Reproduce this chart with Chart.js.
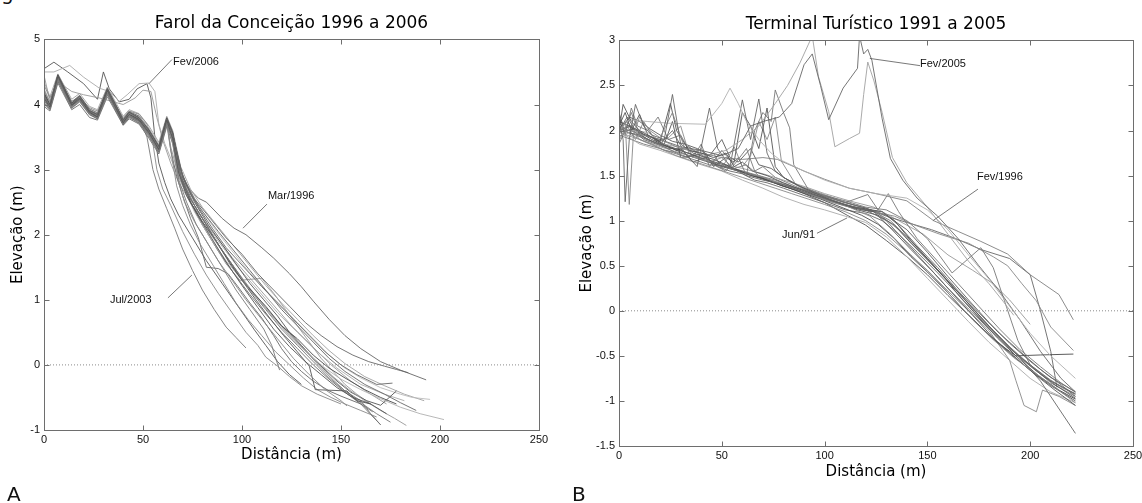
<!DOCTYPE html>
<html>
<head>
<meta charset="utf-8">
<script src="https://cdn.jsdelivr.net/npm/chart.js@4.4.1/dist/chart.umd.min.js"></script>
<style>
body { margin: 0; width: 1142px; height: 503px; position: relative; overflow: hidden; background: #fff; }
canvas { position: absolute; top: 0; }
.tag { position: absolute; font-family: 'DejaVu Sans'; font-size: 20px; line-height: 20px; color: #111; }
</style>
</head>
<body>
<div class="tag" style="left:1px;top:-17px">g</div>
<canvas id="farol" width="560" height="503" style="left:0"></canvas>
<canvas id="terminal" width="572" height="503" style="left:570px"></canvas>
<div class="tag" style="left:7px;top:484px">A</div>
<div class="tag" style="left:572px;top:484px">B</div>
<script>
// ---- Farol da Conceição profiles [distance m, elevation m]
const fc_mar1996 = [[0,4.12],[3,3.98],[7,4.4],[14,3.98],[18,4.08],[23,3.88],[27,3.81],[32,4.18],[40,3.74],[43,3.85],[48,3.76],[53,3.58],[58,3.33],[62,3.73],[65,3.5],[68,3.0],[72,2.75],[78,2.56],[82,2.5],[90,2.25],[96,2.1],[102,2.0],[110,1.8],[116,1.64],[124,1.4],[130,1.2],[136,0.98],[144,0.7],[152,0.45],[160,0.25],[170,0.05],[180,-0.08],[193,-0.23]];
const fc_jul2003 = [[0,4.2],[3,4.0],[7,4.38],[14,4.02],[18,4.12],[23,3.9],[27,3.84],[32,4.22],[40,3.78],[43,3.86],[48,3.8],[52,3.5],[55,3.0],[58,2.7],[62,2.4],[66,2.1],[70,1.78],[75,1.45],[80,1.15],[86,0.85],[92,0.58],[97,0.42],[102,0.26]];
const fc_fev2006 = [[0,4.55],[5,4.65],[12,4.5],[20,4.32],[27,4.08],[30,4.5],[33,4.24],[38,4.04],[43,4.08],[47,4.24],[52,4.32],[54,4.1],[56,3.5],[58,3.1],[61,2.8],[64,2.55],[68,2.3],[75,1.95],[82,1.6],[90,1.25],[98,0.9],[106,0.55],[112,0.3],[118,0.05],[124,-0.15],[130,-0.3]];
const fc_u2 = [[0,4.5],[5,4.5],[13,4.6],[20,4.42],[28,4.25],[33,4.2],[38,4.05],[42,4.15],[48,4.32],[53,4.33],[56,4.2],[58,3.7],[61,3.4],[65,3.1],[70,2.75],[78,2.35],[88,1.9],[98,1.5],[108,1.15],[118,0.8],[128,0.5],[138,0.2],[148,-0.05],[160,-0.3],[172,-0.45],[182,-0.55]];
const fc_u3 = [[0,4.45],[3,4.05],[7,4.35],[14,4.2],[20,4.15],[28,4.1],[34,4.05],[40,4.0],[46,4.1],[50,4.22],[54,4.2],[57,3.8],[60,3.45],[64,3.1],[68,2.8],[75,2.45],[85,2.05],[95,1.65],[105,1.3],[115,0.95],[125,0.6],[135,0.3],[145,0.0],[155,-0.25],[165,-0.45],[173,-0.6]];
const fc_a = [[0,4.1],[3,3.96],[7,4.43],[14,3.99],[18,4.1],[23,3.88],[27,3.81],[32,4.21],[40,3.72],[43,3.85],[48,3.77],[53,3.57],[58,3.31],[62,3.76],[65,3.48],[68,2.95],[72,2.6],[78,2.28],[84,1.98],[92,1.58],[100,1.22],[108,0.88],[116,0.55],[124,0.28],[132,0.05],[140,-0.15],[148,-0.35],[156,-0.5],[165,-0.6]];
const fc_b = [[0,4.05],[3,3.94],[7,4.4],[14,3.97],[18,4.07],[23,3.86],[27,3.8],[32,4.18],[40,3.7],[43,3.82],[48,3.74],[53,3.54],[58,3.29],[62,3.73],[65,3.45],[69,2.9],[73,2.6],[80,2.25],[88,1.85],[96,1.5],[104,1.15],[112,0.85],[120,0.55],[128,0.3],[136,0.05],[144,-0.2],[152,-0.4],[160,-0.55],[165,-0.75],[170,-0.92]];
const fc_c = [[0,4.15],[3,3.99],[7,4.44],[14,4.01],[18,4.12],[23,3.9],[27,3.84],[32,4.23],[40,3.75],[43,3.87],[48,3.79],[53,3.6],[58,3.35],[62,3.78],[65,3.55],[69,3.0],[74,2.62],[80,2.36],[88,2.05],[96,1.75],[104,1.45],[112,1.15],[120,0.85],[128,0.6],[136,0.35],[144,0.1],[152,-0.1],[162,-0.3],[172,-0.45],[180,-0.58],[188,-0.7]];
const fc_d = [[0,4.08],[3,3.95],[7,4.38],[14,3.96],[18,4.06],[23,3.87],[27,3.79],[32,4.17],[40,3.7],[43,3.83],[48,3.73],[53,3.53],[58,3.28],[62,3.72],[65,3.4],[68,2.8],[71,2.5],[76,2.2],[82,1.9],[88,1.6],[95,1.3],[102,1.0],[110,0.7],[118,0.4],[126,0.1],[134,-0.15],[142,-0.38],[150,-0.55],[153,-0.63]];
const fc_e = [[0,4.18],[3,4.0],[7,4.45],[14,4.02],[18,4.13],[23,3.91],[27,3.85],[32,4.24],[40,3.76],[43,3.88],[48,3.8],[53,3.61],[58,3.36],[62,3.79],[65,3.56],[69,2.9],[74,2.5],[80,2.2],[87,1.9],[94,1.55],[100,1.3],[106,1.1],[112,0.9],[120,0.6],[128,0.4],[136,0.15],[144,-0.05],[152,-0.2],[162,-0.38],[170,-0.5],[178,-0.6]];
const fc_f = [[0,4.02],[3,3.93],[7,4.36],[14,3.95],[18,4.05],[23,3.85],[27,3.78],[32,4.16],[40,3.69],[43,3.81],[48,3.72],[53,3.52],[58,3.27],[62,3.7],[66,3.4],[70,2.9],[76,2.55],[84,2.25],[92,1.95],[100,1.7],[108,1.4],[116,1.15],[124,0.9],[132,0.65],[140,0.45],[148,0.28],[156,0.15],[164,0.05],[172,-0.02],[178,-0.07],[184,-0.12]];
const fc_g = [[0,4.2],[3,4.02],[7,4.41],[14,4.03],[18,4.11],[23,3.92],[27,3.86],[32,4.19],[40,3.77],[43,3.86],[48,3.81],[53,3.63],[58,3.38],[62,3.74],[65,3.5],[70,2.75],[76,2.35],[84,1.95],[92,1.6],[100,1.3],[110,0.95],[118,0.65],[126,0.38],[134,0.15],[142,-0.05],[150,-0.22],[160,-0.38],[170,-0.52],[180,-0.65],[190,-0.75],[202,-0.84]];
const fc_h = [[0,4.12],[3,3.98],[7,4.42],[14,4.0],[18,4.09],[23,3.89],[27,3.82],[32,4.2],[40,3.73],[43,3.84],[48,3.76],[53,3.56],[58,3.32],[62,3.75],[65,3.45],[68,2.85],[72,2.5],[77,2.15],[83,1.85],[90,1.5],[97,1.15],[104,0.85],[111,0.55],[115,0.3],[117,0.1],[119,-0.08]];
const fc_i = [[0,4.06],[3,3.96],[7,4.39],[14,3.98],[18,4.08],[23,3.87],[27,3.8],[32,4.19],[40,3.71],[43,3.83],[48,3.75],[53,3.55],[58,3.3],[62,3.74],[65,3.5],[69,2.9],[74,2.55],[80,2.25],[86,1.95],[93,1.62],[100,1.3],[107,1.0],[114,0.72],[121,0.45],[128,0.2],[134,-0.02],[137,-0.38],[145,-0.39],[153,-0.4],[158,-0.55],[165,-0.6],[173,-0.75]];
const fc_j = [[0,4.14],[3,3.97],[7,4.43],[14,4.0],[18,4.11],[23,3.9],[27,3.83],[32,4.21],[40,3.74],[43,3.86],[48,3.78],[53,3.58],[58,3.33],[62,3.77],[65,3.52],[70,2.8],[75,2.45],[82,2.1],[90,1.75],[98,1.42],[106,1.1],[114,0.8],[122,0.52],[130,0.28],[138,0.05],[146,-0.18],[154,-0.38],[162,-0.55],[170,-0.7],[177,-0.82],[183,-0.93]];
const fc_k = [[0,4.22],[3,4.03],[7,4.46],[14,4.04],[18,4.14],[23,3.93],[27,3.87],[32,4.25],[40,3.78],[43,3.89],[48,3.82],[53,3.62],[58,3.37],[62,3.8],[65,3.58],[68,3.1],[72,2.75],[78,2.42],[85,2.1],[92,1.8],[98,1.6],[104,1.4],[110,1.2],[118,0.95],[126,0.7],[134,0.45],[142,0.2],[150,0.0],[158,-0.15],[168,-0.3],[176,-0.28]];
const fc_l = [[0,4.0],[3,3.92],[7,4.37],[14,3.94],[18,4.04],[23,3.84],[27,3.78],[32,4.15],[40,3.69],[43,3.8],[48,3.71],[53,3.5],[58,3.26],[62,3.69],[64,3.3],[67,2.75],[70,2.45],[74,2.15],[79,1.85],[85,1.55],[91,1.25],[97,0.95],[103,0.7],[110,0.45],[117,0.2],[124,0.0],[131,-0.2],[138,-0.38],[145,-0.5],[152,-0.6],[160,-0.7],[168,-0.8]];
const fc_m = [[0,4.16],[3,4.0],[7,4.44],[14,4.01],[18,4.1],[23,3.9],[27,3.84],[32,4.22],[40,3.75],[43,3.85],[48,3.78],[53,3.59],[58,3.34],[62,3.77],[65,3.55],[70,2.9],[76,2.5],[83,2.15],[90,1.85],[97,1.55],[104,1.25],[111,1.0],[118,0.75],[124,0.5],[130,0.3],[136,0.1],[142,-0.08],[148,-0.25],[155,-0.42],[163,-0.55],[170,-0.62],[178,-0.4]];
const fc_n = [[0,4.1],[3,3.95],[7,4.41],[14,3.98],[18,4.08],[23,3.88],[27,3.81],[32,4.2],[40,3.72],[43,3.84],[48,3.76],[53,3.57],[58,3.31],[62,3.75],[65,3.5],[70,2.85],[76,2.45],[82,2.15],[89,1.8],[96,1.5],[103,1.2],[110,0.95],[117,0.7],[124,0.48],[131,0.25],[138,0.02],[145,-0.2],[152,-0.4],[160,-0.58],[168,-0.75],[175,-0.88]];
const fc_o = [[0,4.25],[3,4.05],[7,4.4],[14,4.05],[18,4.12],[23,3.94],[27,3.88],[32,4.18],[40,3.79],[43,3.88],[48,3.83],[53,3.64],[58,3.4],[62,3.72],[65,3.5],[70,2.9],[78,2.45],[86,2.1],[95,1.75],[103,1.45],[112,1.15],[120,0.9],[128,0.65],[136,0.4],[144,0.15],[152,-0.05],[160,-0.2],[170,-0.35],[180,-0.45],[186,-0.5],[195,-0.53]];
const fc_p = [[0,4.08],[3,3.97],[7,4.39],[14,3.99],[18,4.07],[23,3.87],[27,3.81],[32,4.18],[40,3.73],[43,3.83],[48,3.75],[53,3.55],[58,3.3],[62,3.73],[64,3.35],[68,2.9],[73,2.55],[79,2.2],[86,1.85],[92,1.55],[99,1.3],[110,1.33],[116,1.1],[122,0.85],[128,0.6],[134,0.35],[140,0.1],[146,-0.1],[152,-0.3],[158,-0.45],[165,-0.6]];
const fc_q = [[0,4.13],[3,3.98],[7,4.42],[14,4.0],[18,4.1],[23,3.89],[27,3.82],[32,4.2],[40,3.73],[43,3.85],[48,3.77],[53,3.57],[58,3.32],[62,3.76],[64,3.3],[67,2.9],[70,2.6],[74,2.25],[78,1.95],[82,1.5],[88,1.48],[93,1.4],[98,1.2],[104,0.95],[110,0.72],[116,0.45],[120,0.25],[125,0.05],[130,-0.1],[136,-0.25],[144,-0.4],[150,-0.48],[160,-0.6],[170,-0.92]];
const fc_r = [[0,4.3],[3,4.1],[7,4.35],[14,4.05],[18,4.1],[23,3.95],[27,3.9],[32,4.15],[40,3.8],[43,3.9],[48,3.85],[52,3.7],[55,3.4],[57,3.0],[60,2.7],[64,2.45],[70,2.05],[76,1.7],[82,1.38],[88,1.1],[95,0.8],[102,0.5],[108,0.3],[112,0.12],[118,-0.02],[124,-0.18],[130,-0.32],[138,-0.45],[150,-0.6]];
const fc_s = [[0,3.97],[3,3.9],[7,4.33],[14,3.92],[18,4.0],[23,3.8],[27,3.76],[32,4.12],[40,3.68],[43,3.78],[48,3.7],[53,3.48],[58,3.24],[62,3.66],[65,3.4],[68,2.95],[73,2.55],[80,2.15],[88,1.75],[96,1.4],[104,1.08],[112,0.78],[120,0.5],[128,0.25],[136,0.0],[144,-0.22],[152,-0.42],[160,-0.6],[166,-0.72]];
const fc_t = [[0,4.35],[3,4.12],[7,4.47],[14,4.08],[18,4.17],[23,3.97],[27,3.92],[32,4.27],[40,3.82],[43,3.92],[48,3.86],[53,3.67],[58,3.42],[62,3.82],[65,3.6],[69,3.05],[74,2.7],[80,2.42],[88,2.12],[96,1.82],[104,1.52],[112,1.22],[120,0.95],[128,0.7],[136,0.45],[144,0.22],[152,0.02],[162,-0.18],[172,-0.32],[182,-0.45],[192,-0.55]];

const farolProfiles = [fc_a, fc_b, fc_c, fc_d, fc_e, fc_f, fc_g, fc_h, fc_i, fc_j, fc_k, fc_l, fc_m, fc_n, fc_o, fc_p, fc_q, fc_r, fc_s, fc_t, fc_u2, fc_u3, fc_fev2006, fc_jul2003, fc_mar1996];
const farolGrays = ['#555','#777','#666','#888','#4a4a4a','#666','#b0b0b0','#777','#555','#999','#666','#888','#555','#777','#bbbbbb','#999','#666','#888','#6a6a6a','#a0a0a0','#aaaaaa','#999','#555','#777','#666'];

// ---- Terminal Turístico profiles
const tt_jun91 = [[0,2.05],[4,1.98],[10,1.95],[18,1.86],[26,1.8],[34,1.72],[42,1.66],[50,1.6],[58,1.55],[66,1.49],[74,1.43],[82,1.37],[90,1.3],[100,1.2],[111,1.06],[120,0.95],[130,0.78],[140,0.6],[150,0.4],[160,0.17],[170,-0.05],[180,-0.27],[190,-0.47],[200,-0.66],[210,-0.83],[222,-1.0]];
const tt_b = [[0,2.1],[2,1.9],[3,1.21],[5,1.9],[8,2.29],[12,2.05],[16,1.95],[22,1.9],[26,2.4],[30,1.85],[36,1.75],[42,1.7],[48,1.62],[55,1.58],[62,1.5],[70,1.45],[80,1.4],[90,1.32],[100,1.25],[110,1.18],[120,1.12],[130,1.0],[140,0.75],[150,0.5],[160,0.25],[170,0.02],[180,-0.2],[190,-0.42],[200,-0.6],[210,-0.78],[222,-0.92]];
const tt_c = [[0,1.95],[3,2.1],[5,1.18],[7,1.95],[10,2.15],[15,2.0],[20,1.92],[26,2.2],[32,1.8],[38,1.78],[44,1.65],[50,1.7],[56,1.58],[62,1.62],[68,1.5],[75,1.44],[82,1.38],[92,1.3],[102,1.22],[112,1.15],[122,1.05],[132,0.85],[142,0.62],[152,0.4],[162,0.15],[172,-0.1],[182,-0.32],[192,-0.52],[203,-0.7],[212,-0.85],[222,-1.02]];
const tt_d = [[0,2.0],[2,2.29],[6,2.1],[10,2.0],[14,1.95],[20,1.88],[25,2.3],[28,2.0],[34,1.78],[40,1.75],[46,1.7],[52,1.75],[56,1.6],[60,1.65],[65,1.55],[72,1.5],[80,1.42],[90,1.33],[100,1.25],[110,1.17],[118,1.12],[124,1.1],[132,0.92],[142,0.68],[152,0.45],[162,0.2],[172,-0.05],[182,-0.3],[192,-0.5],[202,-0.7],[212,-0.88],[222,-1.05]];
const tt_e = [[0,2.0],[5,2.12],[14,2.1],[25,2.08],[42,2.07],[50,2.3],[54,2.47],[58,2.3],[62,2.1],[68,1.9],[74,1.75],[78,1.68],[90,1.55],[100,1.45],[112,1.36],[125,1.3],[140,1.25],[150,1.12],[160,0.9],[170,0.62],[180,0.35],[190,0.05],[200,-0.25],[210,-0.5],[222,-0.75]];
const tt_fev1996 = [[0,2.05],[5,2.0],[12,1.95],[20,1.9],[30,1.8],[40,1.75],[50,1.7],[60,1.68],[70,1.7],[77,1.68],[90,1.55],[100,1.46],[112,1.36],[125,1.3],[140,1.22],[153,1.0],[165,0.88],[176,0.77],[189,0.63],[200,0.4],[214,0.18],[221,-0.1]];
const tt_fev2005 = [[0,2.0],[6,2.05],[12,1.95],[20,1.9],[30,1.82],[40,1.78],[50,1.72],[58,1.8],[64,2.05],[70,2.1],[78,2.15],[84,2.3],[90,2.73],[94,2.85],[98,2.5],[102,2.12],[109,2.47],[116,2.69],[117,3.05],[119,2.85],[121,2.9],[123,2.78],[128,2.13],[132,1.69],[138,1.45],[145,1.25],[155,1.05],[165,0.8],[175,0.5],[185,0.22],[195,-0.1],[205,-0.45],[215,-0.75],[222,-0.9]];
const tt_h = [[0,1.9],[6,2.0],[14,1.98],[22,1.85],[32,1.8],[42,1.72],[52,1.78],[60,1.9],[68,2.05],[76,2.3],[82,2.5],[88,2.75],[92,2.95],[94,3.05],[97,2.6],[102,2.21],[105,1.82],[112,1.91],[117,1.97],[119,2.4],[121,2.76],[124,2.55],[128,2.2],[133,1.7],[140,1.42],[150,1.15],[160,0.85],[170,0.55],[180,0.3],[187,0.1],[192,-0.05]];
const tt_i = [[0,2.0],[4,2.15],[8,2.0],[14,1.9],[20,1.85],[26,2.0],[32,1.75],[38,1.6],[44,2.25],[48,1.8],[54,1.6],[60,2.34],[64,1.9],[68,2.35],[72,1.75],[76,1.55],[82,1.45],[90,1.35],[100,1.26],[110,1.18],[120,1.12],[128,1.1],[136,0.95],[145,0.72],[155,0.48],[165,0.22],[175,-0.02],[185,-0.25],[195,-0.45],[205,-0.65],[215,-0.82],[222,-0.95]];
const tt_j = [[0,1.85],[3,2.0],[6,2.2],[10,1.95],[16,1.88],[22,1.82],[28,1.75],[34,1.7],[40,1.8],[46,1.62],[52,1.55],[58,1.7],[62,1.5],[66,2.0],[70,2.2],[74,2.1],[76,2.45],[80,2.2],[83,2.03],[85,1.62],[92,1.35],[100,1.27],[110,1.2],[121,1.29],[126,1.12],[131,1.3],[136,1.1],[145,0.8],[155,0.55],[165,0.3],[175,0.05],[185,-0.2],[195,-0.43],[205,-0.62],[215,-0.8],[222,-0.9]];
const tt_k = [[0,2.1],[5,2.05],[10,1.98],[16,1.9],[22,1.84],[28,1.78],[34,1.82],[40,1.72],[46,1.68],[52,1.62],[58,1.56],[64,1.5],[70,1.47],[78,1.4],[88,1.32],[98,1.24],[108,1.15],[118,1.06],[126,0.96],[134,0.8],[142,0.6],[150,0.43],[160,0.2],[168,0.0],[176,-0.18],[184,-0.35],[193,-0.5],[205,-0.49],[221,-0.48]];
const tt_l = [[0,2.05],[6,1.95],[12,1.88],[20,1.8],[28,1.72],[36,1.66],[44,1.6],[52,1.54],[60,1.48],[68,1.42],[76,1.36],[84,1.3],[92,1.24],[100,1.18],[110,1.1],[120,1.0],[130,0.85],[140,0.65],[150,0.45],[160,0.22],[170,0.0],[180,-0.22],[190,-0.55],[193,-0.77],[197,-1.05],[203,-1.12],[206,-0.88],[214,-0.95],[222,-1.05]];
const tt_m = [[0,2.0],[4,2.1],[8,1.98],[12,1.9],[18,1.85],[24,1.8],[30,1.8],[36,1.65],[42,1.7],[48,1.6],[54,1.55],[60,1.52],[66,1.45],[72,1.42],[80,1.36],[90,1.28],[100,1.2],[110,1.12],[120,1.08],[128,1.0],[136,0.85],[145,0.65],[155,0.42],[165,0.18],[175,-0.07],[185,-0.3],[195,-0.52],[205,-0.78],[222,-1.36]];
const tt_n = [[0,2.0],[5,1.92],[10,1.85],[20,1.78],[30,1.7],[40,1.62],[50,1.55],[60,1.45],[70,1.36],[80,1.26],[90,1.18],[100,1.12],[110,1.05],[120,0.98],[130,0.82],[140,0.6],[150,0.36],[160,0.12],[170,-0.12],[180,-0.35],[190,-0.55],[200,-0.75],[210,-0.9],[222,-1.02]];
const tt_o = [[0,2.05],[3,2.2],[6,2.0],[10,2.18],[14,1.95],[18,1.9],[22,1.85],[26,2.1],[30,1.7],[36,1.72],[42,1.75],[46,1.6],[52,1.7],[56,1.65],[60,2.2],[64,2.05],[68,1.8],[72,2.25],[76,1.6],[80,1.48],[88,1.38],[96,1.3],[106,1.2],[116,1.12],[126,1.06],[134,0.95],[142,0.75],[152,0.52],[162,0.28],[172,0.03],[182,-0.22],[192,-0.45],[202,-0.65],[212,-0.82],[222,-0.97]];
const tt_p = [[0,1.95],[6,1.9],[12,1.85],[20,1.8],[28,1.74],[36,1.68],[44,1.62],[52,1.6],[60,1.55],[68,1.5],[76,1.45],[84,1.38],[92,1.32],[100,1.28],[110,1.22],[120,1.15],[130,1.12],[140,1.0],[150,0.8],[162,0.42],[176,0.7],[182,0.48],[194,-0.33],[200,-0.6],[210,-0.8],[222,-0.95]];
const tt_q = [[0,2.0],[5,2.05],[10,1.9],[16,1.85],[22,1.78],[30,1.75],[38,1.7],[46,1.64],[54,1.58],[62,1.52],[70,1.48],[78,1.42],[86,1.35],[94,1.28],[104,1.2],[114,1.14],[124,1.1],[134,1.05],[144,0.95],[156,0.85],[170,0.75],[182,0.6],[189,0.5],[196,0.3],[203,0.11],[210,-0.18],[221,-0.44]];
const tt_r = [[0,2.02],[8,1.95],[16,1.88],[24,1.82],[32,1.76],[40,1.7],[48,1.64],[56,1.58],[64,1.52],[72,1.46],[80,1.4],[90,1.34],[100,1.27],[110,1.2],[120,1.14],[130,1.05],[140,0.98],[152,0.9],[164,0.8],[176,0.68],[190,0.58],[200,0.4],[205,0.0],[210,-0.45],[213,-0.85]];
const tt_s = [[0,1.98],[10,1.9],[20,1.82],[30,1.75],[40,1.68],[50,1.63],[60,1.58],[70,1.52],[80,1.45],[90,1.38],[100,1.3],[112,1.22],[124,1.15],[136,1.0],[148,0.85],[160,0.62],[172,0.45],[182,0.3],[190,0.12],[200,-0.15]];
const tt_t = [[0,2.08],[4,2.0],[8,2.02],[12,1.96],[16,1.92],[20,1.87],[25,1.82],[30,1.78],[36,1.73],[42,1.67],[48,1.62],[54,1.58],[60,1.54],[66,1.5],[72,1.45],[80,1.38],[88,1.33],[96,1.27],[104,1.21],[112,1.16],[120,1.13],[128,1.1],[134,1.0],[142,0.78],[150,0.58],[158,0.38],[166,0.15],[174,-0.05],[184,-0.3],[194,-0.52],[204,-0.72],[214,-0.88],[222,-0.98]];
const tt_u = [[0,2.15],[3,1.95],[6,2.25],[9,2.05],[14,2.0],[19,2.15],[24,1.9],[30,1.95],[36,1.7],[40,1.85],[44,1.6],[50,1.78],[56,1.62],[62,1.8],[66,1.55],[70,1.6],[76,1.48],[84,1.4],[94,1.3],[104,1.22],[114,1.15],[124,1.1],[132,1.0],[140,0.82],[150,0.58],[160,0.33],[170,0.08],[180,-0.17],[190,-0.4],[200,-0.6],[210,-0.77],[222,-0.93]];
const tt_v = [[0,1.9],[4,2.05],[8,1.9],[12,2.1],[18,1.88],[24,1.92],[30,2.05],[34,1.75],[40,1.68],[46,1.75],[50,1.58],[56,1.82],[60,1.6],[64,1.72],[68,2.1],[72,1.9],[76,2.15],[79,1.66],[86,1.4],[96,1.32],[106,1.24],[116,1.16],[126,1.08],[136,0.9],[146,0.66],[156,0.42],[166,0.18],[176,-0.08],[186,-0.32],[196,-0.54],[206,-0.72],[216,-0.86],[222,-0.92]];
const tt_w = [[0,2.2],[2,2.05],[5,2.15],[10,2.1],[15,2.02],[20,1.95],[26,1.88],[32,1.85],[38,1.8],[44,1.72],[50,1.9],[54,1.7],[58,1.65],[64,1.8],[68,1.62],[74,1.58],[80,1.48],[90,1.36],[100,1.28],[110,1.2],[120,1.14],[130,1.06],[140,0.9],[150,0.65],[160,0.38],[170,0.12],[180,-0.13],[190,-0.36],[200,-0.56],[210,-0.74],[222,-0.9]];

const terminalProfiles = [tt_b, tt_c, tt_d, tt_e, tt_fev1996, tt_fev2005, tt_h, tt_i, tt_j, tt_k, tt_l, tt_m, tt_n, tt_o, tt_p, tt_q, tt_r, tt_s, tt_t, tt_u, tt_v, tt_w, tt_jun91];
const terminalGrays = ['#666','#888','#555','#b0b0b0','#808080','#666','#a0a0a0','#666','#777','#4a4a4a','#888','#666','#aaaaaa','#555','#777','#888','#666','#999','#444','#777','#8a8a8a','#5a5a5a','#555'];

// ---- annotations: text at [x, y], leader from / to
const farolNotes = [
  { text: 'Fev/2006', at: [65.2, 4.66], from: [64.6, 4.69], to: [53, 4.32] },
  { text: 'Mar/1996', at: [113.1, 2.59], from: [112.6, 2.47], to: [100.5, 2.1] },
  { text: 'Jul/2003', at: [33.3, 1.0], from: [62.6, 1.03], to: [74.7, 1.38] }
];
const terminalNotes = [
  { text: 'Fev/2005', at: [146.4, 2.74], from: [146.4, 2.72], to: [122, 2.8] },
  { text: 'Fev/1996', at: [174.1, 1.48], from: [174.6, 1.35], to: [152.7, 1.0] },
  { text: 'Jun/91', at: [79.3, 0.84], from: [96.3, 0.86], to: [110.9, 1.03] }
];

const xTicksDist = [0, 50, 100, 150, 200, 250];

Chart.defaults.font.family = "'Liberation Sans', Arial, sans-serif";
Chart.defaults.color = '#111';

const pts = arr => arr.map(p => ({ x: p[0], y: p[1] }));

const framePlugin = {
  id: 'frame',
  afterDatasetsDraw(chart, args, opts) {
    const { ctx, chartArea: a, scales: { x, y } } = chart;
    ctx.save();
    ctx.strokeStyle = '#6e6e6e';
    ctx.lineWidth = 1;
    const L = Math.round(a.left) + 0.5, R = Math.round(a.right) + 0.5;
    const T = Math.round(a.top) + 0.5, B = Math.round(a.bottom) + 0.5;
    ctx.strokeRect(L, T, R - L, B - T);
    ctx.beginPath();
    x.ticks.forEach(t => {
      const px = Math.round(x.getPixelForValue(t.value)) + 0.5;
      ctx.moveTo(px, B); ctx.lineTo(px, B - 5);
      ctx.moveTo(px, T); ctx.lineTo(px, T + 5);
    });
    y.ticks.forEach(t => {
      const py = Math.round(y.getPixelForValue(t.value)) + 0.5;
      ctx.moveTo(L, py); ctx.lineTo(L + 5, py);
      ctx.moveTo(R, py); ctx.lineTo(R - 5, py);
    });
    ctx.stroke();
    // annotations
    ctx.font = "11px 'Liberation Sans', Arial, sans-serif";
    ctx.fillStyle = '#111';
    ctx.textBaseline = 'middle';
    ctx.textAlign = 'left';
    ctx.strokeStyle = '#555';
    ctx.lineWidth = 0.8;
    opts.notes.forEach(n => {
      ctx.beginPath();
      ctx.moveTo(x.getPixelForValue(n.from[0]), y.getPixelForValue(n.from[1]));
      ctx.lineTo(x.getPixelForValue(n.to[0]), y.getPixelForValue(n.to[1]));
      ctx.stroke();
      ctx.fillText(n.text, x.getPixelForValue(n.at[0]), y.getPixelForValue(n.at[1]));
    });
    ctx.restore();
  }
};

function makeChart(id, cfg) {
  const datasets = cfg.profiles.map((p, i) => ({
    data: pts(p),
    borderColor: cfg.grays[i],
    borderWidth: 0.9,
    pointRadius: 0,
    tension: 0,
    fill: false
  }));
  datasets.unshift({
    data: [{ x: 0, y: 0 }, { x: 250, y: 0 }],
    borderColor: '#8a8a8a',
    borderWidth: 1,
    borderDash: [1, 2],
    pointRadius: 0
  });
  return new Chart(document.getElementById(id), {
    type: 'line',
    data: { datasets },
    plugins: [framePlugin],
    options: {
      responsive: false,
      animation: false,
      events: [],
      layout: { padding: { left: 0, right: cfg.padRight, top: 0, bottom: 0 } },
      plugins: {
        legend: { display: false },
        tooltip: { enabled: false },
        title: {
          display: true,
          text: cfg.title,
          fullSize: false,
          color: '#000',
          font: { family: 'DejaVu Sans', size: 17, weight: 'normal' },
          padding: { top: cfg.titleTop, bottom: 6 }
        },
        frame: { notes: cfg.notes }
      },
      scales: {
        x: {
          type: 'linear',
          min: 0, max: 250,
          afterBuildTicks: s => { s.ticks = xTicksDist.map(v => ({ value: v })); },
          afterFit: s => { s.height = cfg.xHeight; s.paddingLeft = 0; s.paddingRight = 0; },
          grid: { display: false, drawTicks: false },
          border: { display: false },
          ticks: { padding: 3, maxRotation: 0, autoSkip: false, font: { size: 11 }, color: '#111', callback: v => String(v) },
          title: {
            display: true, text: 'Distância (m)', color: '#000',
            font: { family: 'DejaVu Sans', size: 15 },
            padding: { top: 0, bottom: cfg.xTitleBottom }
          }
        },
        y: {
          type: 'linear',
          min: cfg.yMin, max: cfg.yMax,
          afterBuildTicks: s => { s.ticks = cfg.yTicks.map(v => ({ value: v })); },
          afterFit: s => { s.width = cfg.yWidth; s.paddingTop = 0; s.paddingBottom = 0; },
          grid: { display: false, drawTicks: false },
          border: { display: false },
          ticks: { padding: 4, autoSkip: false, font: { size: 11 }, color: '#111', callback: v => String(v) },
          title: {
            display: true, text: 'Elevação (m)', color: '#000',
            font: { family: 'DejaVu Sans', size: 15 },
            padding: { top: cfg.yTitleTop, bottom: 0 }
          }
        }
      }
    }
  });
}

makeChart('farol', {
  title: 'Farol da Conceição 1996 a 2006',
  profiles: farolProfiles, grays: farolGrays, notes: farolNotes,
  yMin: -1, yMax: 5, yTicks: [-1, 0, 1, 2, 3, 4, 5],
  padRight: 21, titleTop: 13, xHeight: 73, yWidth: 44,
  xTitleBottom: 39, yTitleTop: 9
});

makeChart('terminal', {
  title: 'Terminal Turístico 1991 a 2005',
  profiles: terminalProfiles, grays: terminalGrays, notes: terminalNotes,
  yMin: -1.5, yMax: 3, yTicks: [-1.5, -1, -0.5, 0, 0.5, 1, 1.5, 2, 2.5, 3],
  padRight: 9, titleTop: 14, xHeight: 57, yWidth: 49,
  xTitleBottom: 22, yTitleTop: 8
});
</script>
</body>
</html>
